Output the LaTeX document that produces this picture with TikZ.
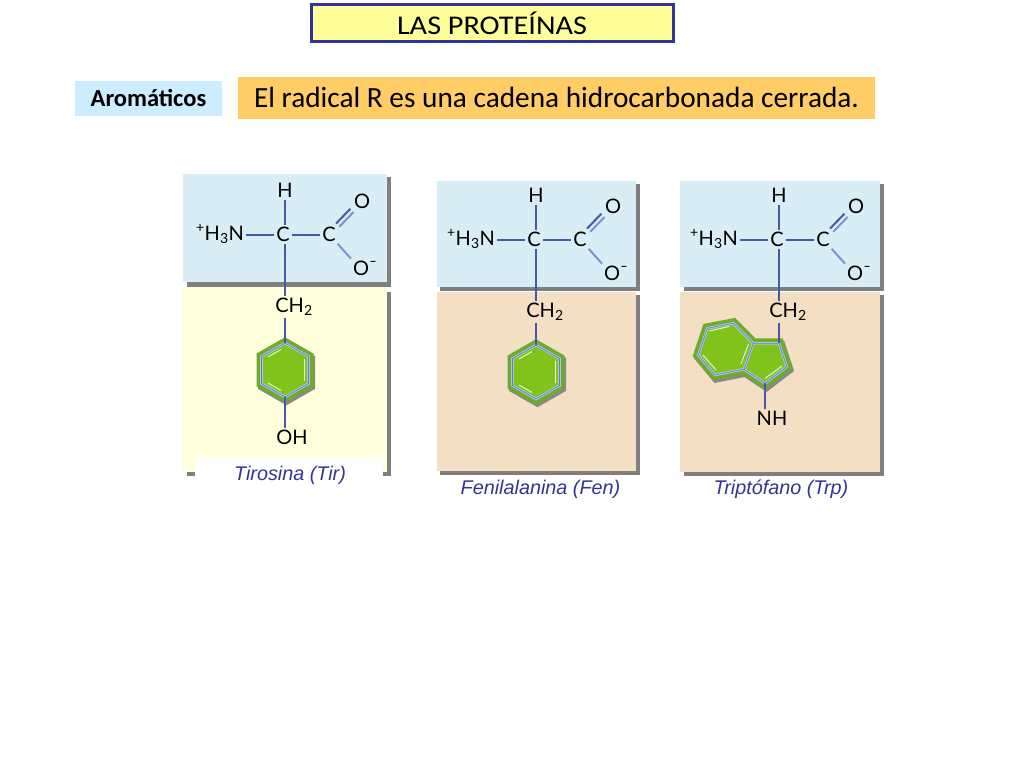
\documentclass[tikz,border=0pt]{standalone}
\usepackage{fontspec}
\setmainfont{Carlito}
\newfontfamily\titlef[FakeStretch=1.12]{Carlito}
\newfontfamily\arialf{Liberation Sans}
\newfontfamily\chemf{Lato}
\definecolor{navyb}{HTML}{333399}
\definecolor{titley}{HTML}{FFFF99}
\definecolor{aroblue}{HTML}{CCECFF}
\definecolor{orangeb}{HTML}{FFCC66}
\definecolor{panelblue}{HTML}{D8EDF5}
\definecolor{panelyel}{HTML}{FFFFDC}
\definecolor{paneltan}{HTML}{F3DFC3}
\definecolor{shadowg}{HTML}{7F7F7F}
\definecolor{ringout}{HTML}{6FAB2B}
\definecolor{ringin}{HTML}{7FC31B}
\definecolor{ringsh}{HTML}{8A8A80}
\definecolor{bondc}{HTML}{4658A8}
\definecolor{ringline}{HTML}{A9C6EA}
\tikzset{
  x=1pt,y=-1pt,
  atom/.style={inner sep=1.8pt,font=\chemf\fontsize{20}{20}\selectfont,text=black},
  bond/.style={draw=bondc,line width=2pt},
  bondl/.style={draw=ringline!55!bondc,line width=2pt},
  caption/.style={font=\arialf\itshape\fontsize{19.8}{19.8}\selectfont,text=navyb,inner sep=0pt},
  ringedge/.style={draw=ringline,line width=2.6pt,line join=miter},
  ringcore/.style={draw=bondc!70!ringline,line width=0.6pt},
  ringouter/.style={draw=ringout,fill=ringout,line width=10pt,line join=miter},
  ringshadow/.style={draw=ringsh,fill=ringsh,line width=10pt,line join=miter},
  ringinner/.style={fill=ringin,draw=none},
  dbl/.style={draw=white!85!ringin,line width=0.9pt}
}
% #1 prefix, #2 dx, #3 dy : top panel molecule
\newcommand{\aminoacid}[3]{%
\begin{scope}[shift={(#2,#3)}]
  \node[atom] (#1h) at (285,190) {H};
  \node[atom] (#1ca) at (283,234.5) {C};
  \node[atom] (#1cb) at (329,234.5) {C};
  \node[atom] (#1n) at (220,234) {\textsuperscript{+}H\textsubscript{3}N};
  \node[atom] (#1oa) at (362,201) {O};
  \node[atom] (#1ob) at (361,268) {O};
  \node[atom,inner sep=0pt,font=\chemf\bfseries\fontsize{12}{12}\selectfont] (#1m) at (373,263) {–};
  \node[atom] (#1ch) at (294,307) {CH\textsubscript{2}};
  \draw[bond] (#1h) ++(0,10) coordinate (#1hb) -- (#1hb |- #1ca.north);
  \draw[bond] (#1n.east |- #1ca) -- (#1ca.west);
  \draw[bond] (#1ca.east) -- (#1cb.west);
  \draw[bond] ([shift={(-1.6,-1.6)}]#1cb.north east) -- ([shift={(-1.6,-1.6)}]#1oa.south west);
  \draw[bondl] ([shift={(1.6,1.6)}]#1cb.north east) -- ([shift={(1.6,1.6)}]#1oa.south west);
  \draw[bondl] (#1cb.south east) -- (#1ob.north west);
  \draw[bond] (#1hb |- #1ca.south) -- (#1hb |- #1ch.north);
\end{scope}}
\begin{document}
\begin{tikzpicture}
\useasboundingbox (0,0) rectangle (1024,768);
\fill[white] (0,0) rectangle (1024,768);

% headers
\node[draw=navyb,line width=3pt,fill=titley,minimum width=362pt,minimum height=37pt,inner sep=0pt,font=\titlef\fontsize{27}{27}\selectfont] (title) at (492,23.5) {\raisebox{1.5pt}{LAS PROTEÍNAS}};
\node[fill=aroblue,minimum width=147pt,minimum height=35pt,inner sep=0pt,font=\bfseries\fontsize{24.5}{24.5}\selectfont] (aro) at (148.5,98.5) {\raisebox{0.5pt}{Aromáticos}};
\node[fill=orangeb,minimum width=637pt,minimum height=42pt,inner sep=0pt,font=\fontsize{29.3}{29.3}\selectfont] (radical) at (556.5,98) {\raisebox{0.5pt}{El radical R es una cadena hidrocarbonada cerrada.}};

% Tirosina panels
\fill[shadowg] (187,177) rectangle (391,287);
\fill[panelblue] (183,174) rectangle (387,282);
\fill[shadowg] (187,292) rectangle (391,476);
\fill[panelyel] (183,287) rectangle (387,472);
\fill[white] (195,457) rectangle (383,490);

% Fenilalanina panels
\fill[shadowg] (440,184) rectangle (640,291);
\fill[panelblue] (437,181) rectangle (636,287);
\fill[shadowg] (440,295) rectangle (640,475);
\fill[paneltan] (437,292) rectangle (636,471);

% Triptofano panels
\fill[shadowg] (684,184) rectangle (884,291);
\fill[panelblue] (680,181) rectangle (880,287);
\fill[shadowg] (684,295) rectangle (884,476);
\fill[paneltan] (680,292) rectangle (880,472);

% rings
\newcommand{\hexpath}{(0,-27) -- (23.5,-13.5) -- (23.5,13.5) -- (0,27) -- (-23.5,13.5) -- (-23.5,-13.5) -- cycle}
\newcommand{\hexring}[2]{%
\begin{scope}[shift={(#1,#2)}]
  \draw[ringshadow,shift={(1.5,2.5)}] \hexpath;
  \draw[ringouter] \hexpath;
  \fill[ringinner] \hexpath;
  \draw[ringedge] \hexpath;
  \draw[ringcore] \hexpath;
  \draw[dbl] (-17,-13) -- (-4,-20.5);
  \draw[dbl] (19,-11) -- (19,11);
  \draw[dbl] (-17,13) -- (-4,20.5);
\end{scope}}
\hexring{285}{370}
\hexring{536}{372}

% indole
\newcommand{\indolepath}{(733.3,323.3) -- (753.3,343.3) -- (779,343.3) -- (786.7,366.7) -- (765,383.3) -- (744,369.3) -- (715,375) -- (698.3,355) -- (707.3,328.3) -- cycle}
\draw[ringshadow,shift={(1.5,2.5)}] \indolepath;
\draw[ringouter] \indolepath;
\fill[ringinner] \indolepath;
\draw[ringedge] \indolepath;
\draw[ringedge] (753.3,343.3) -- (744,369.3);
\draw[ringcore] \indolepath;
\draw[ringcore] (753.3,343.3) -- (744,369.3);
\draw[dbl] (709.5,331) -- (729,326.5);
\draw[dbl] (703,355) -- (716,370);
\draw[dbl] (748.5,344) -- (741,364);
\draw[dbl] (782,366) -- (765,378.5);

% molecules
\aminoacid{t}{0}{0}
\aminoacid{f}{251}{5}
\aminoacid{w}{494}{5}

% side chains Tirosina
\node[atom] (toh) at (292,437) {OH};
\coordinate (tringtop) at (285,343);
\coordinate (tringbot) at (285,397);
\draw[bond] (thb |- tch.south) -- (tringtop);
\draw[bond] (tringbot) -- (thb |- toh.north);

% side chains Fenilalanina
\coordinate (fringtop) at (536,345);
\draw[bond] (fhb |- fch.south) -- (fringtop);

% side chains Triptofano
\node[atom] (wnh) at (772,418) {NH};
\coordinate (wringtop) at (779,343.3);
\coordinate (wringbot) at (765,383.3);
\draw[bond] (wringtop |- wch.south) -- (wringtop);
\draw[bond] (wringbot) -- (wringbot |- wnh.north);

% captions
\node[caption] (ctir) at (290,475.5) {Tirosina (Tir)};
\node[caption] (cfen) at (540.5,489.5) {Fenilalanina (Fen)};
\node[caption] (ctrp) at (781,489.5) {Triptófano (Trp)};
\end{tikzpicture}
\end{document}
